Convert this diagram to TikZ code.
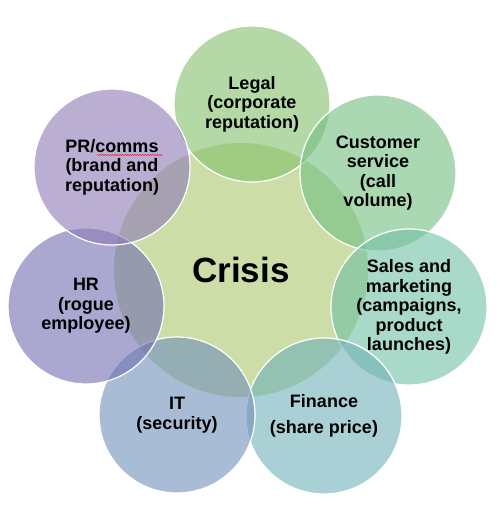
\documentclass[tikz,border=0pt]{standalone}
\usepackage{fontspec}
\setmainfont{Liberation Sans}
\usetikzlibrary{decorations.pathmorphing}
\definecolor{cCenter}{RGB}{204,221,168}
\definecolor{cLegal}{RGB}{132,192,107}
\definecolor{cCust}{RGB}{113,190,128}
\definecolor{cSales}{RGB}{112,192,163}
\definecolor{cFin}{RGB}{112,177,185}
\definecolor{cIT}{RGB}{112,143,187}
\definecolor{cHR}{RGB}{113,110,177}
\definecolor{cPR}{RGB}{140,122,182}
\begin{document}
\begin{tikzpicture}[x=1pt,y=-1pt,
  outer/.style={circle, minimum size=156pt, inner sep=0pt, fill=#1, fill opacity=0.6,
    text opacity=1, draw=white, draw opacity=1, line width=1.2pt, align=center,
    font=\fontsize{18}{19.5}\selectfont\bfseries},
  hub/.style={circle, minimum size=254pt, inner sep=0pt, fill=cCenter,
    font=\fontsize{35}{40}\selectfont\bfseries},
  spell/.style={red, line width=0.4pt, decorate,
    decoration={snake, amplitude=0.6pt, segment length=2.5pt}}
]
\useasboundingbox (0,0) rectangle (500,522);
\node[hub] (crisis) at (241,270) {Crisis};
\node[outer=cLegal] (legal) at (252,104) {Legal\\(corporate\\reputation)};
\node[outer=cCust] (cust) at (378,173) {Customer\\service\\(call\\volume)};
\node[outer=cSales] (sales) at (409,307) {Sales and\\marketing\\(campaigns,\\product\\launches)};
\node[outer=cFin] (fin) at (324,416) {Finance\\[7pt](share price)};
\node[outer=cIT] (it) at (177,415) {IT\\(security)};
\node[outer=cHR] (hr) at (86,306) {HR\\(rogue\\employee)};
\node[outer=cPR] (pr) at (112,167) {PR/comms\\(brand and\\reputation)};
\coordinate (sq1) at (97,155);
\coordinate (sq2) at (163,155);
\draw[spell] (sq1) -- (sq2);
\end{tikzpicture}
\end{document}
